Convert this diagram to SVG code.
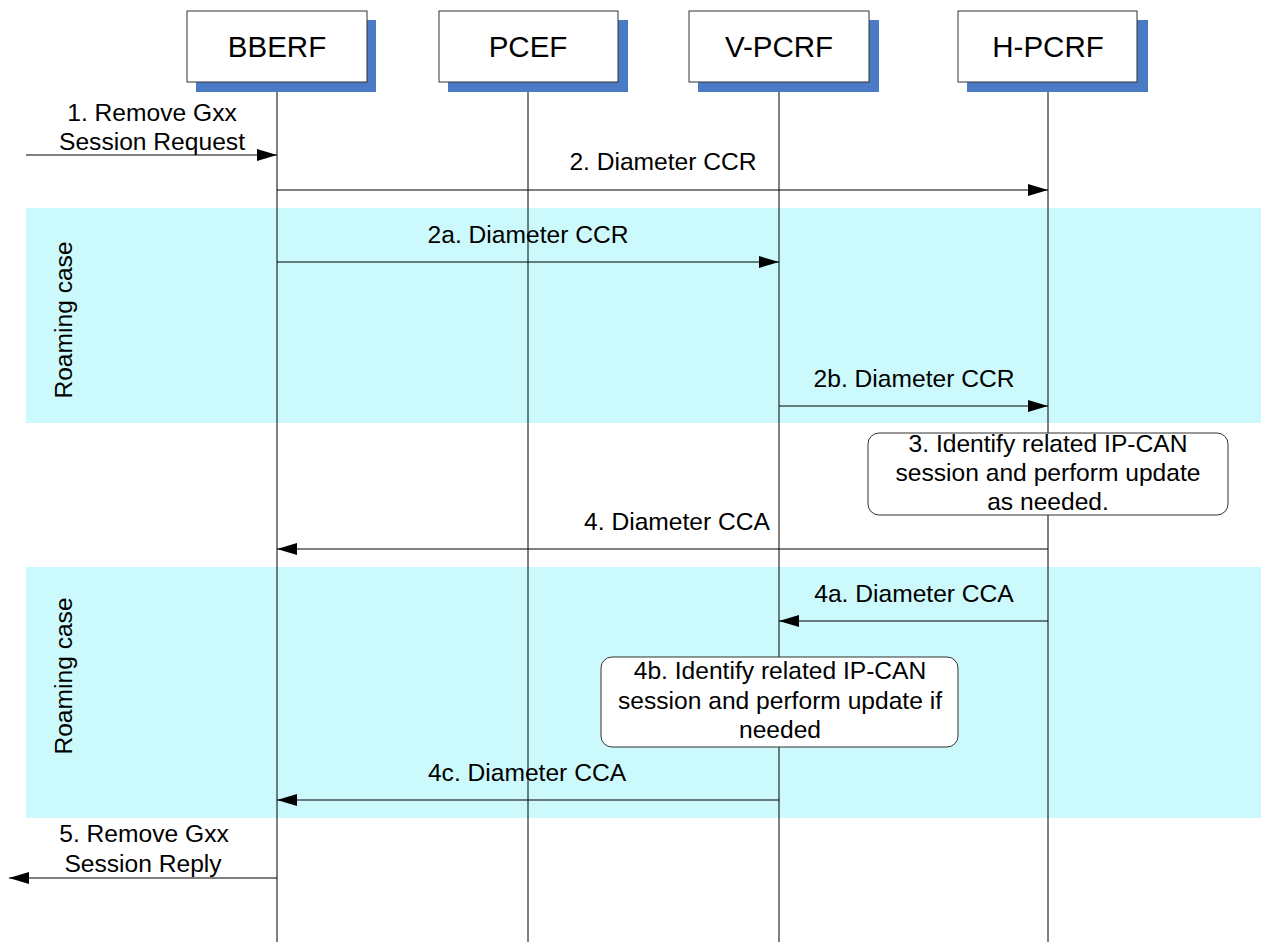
<svg xmlns="http://www.w3.org/2000/svg" width="1261" height="942" viewBox="0 0 1261 942">
<style>
text{font-family:"Liberation Sans",Arial,sans-serif;fill:#000}
.hd{font-size:29.5px;text-anchor:middle}
.lb{font-size:24.6px;text-anchor:middle}
.box{fill:#fff;stroke:#333;stroke-width:1}
.sh{fill:#4A7BC4}
.life{stroke:#000;stroke-width:1}
.msg{stroke:#000;stroke-width:1;fill:none;marker-end:url(#ah)}
.band{fill:#CCF9FB}
.note{fill:#fff;stroke:#333;stroke-width:1}
</style>
<defs>
<marker id="ah" markerUnits="userSpaceOnUse" markerWidth="20" markerHeight="12" refX="20" refY="6" orient="auto">
<path d="M0,0 L20,6 L0,12 z" fill="#000"/>
</marker>
</defs>
<rect width="1261" height="942" fill="#fff"/>
<g id="bands">
<rect class="band" x="26" y="208" width="1235" height="215"/>
<rect class="band" x="26" y="567" width="1235" height="251"/>
<text class="lb" transform="translate(72,320) rotate(-90)">Roaming case</text>
<text class="lb" transform="translate(72,676) rotate(-90)">Roaming case</text>
</g>
<g id="lifelines">
<line class="life" x1="277" y1="82" x2="277" y2="942"/>
<line class="life" x1="528" y1="82" x2="528" y2="942"/>
<line class="life" x1="779" y1="82" x2="779" y2="942"/>
<line class="life" x1="1048" y1="82" x2="1048" y2="942"/>
</g>
<g id="node-bberf">
<rect class="sh" x="196" y="20" width="180" height="72"/>
<rect class="box" x="187" y="11" width="180" height="71"/>
<text class="hd" x="277" y="57">BBERF</text>
</g>
<g id="node-pcef">
<rect class="sh" x="448" y="20" width="180" height="72"/>
<rect class="box" x="439" y="11" width="179" height="71"/>
<text class="hd" x="528" y="57">PCEF</text>
</g>
<g id="node-vpcrf">
<rect class="sh" x="698" y="20" width="181" height="72"/>
<rect class="box" x="689" y="11" width="180" height="71"/>
<text class="hd" x="779" y="57">V-PCRF</text>
</g>
<g id="node-hpcrf">
<rect class="sh" x="967" y="20" width="181" height="72"/>
<rect class="box" x="958" y="11" width="179" height="71"/>
<text class="hd" x="1048" y="57">H-PCRF</text>
</g>
<g id="connectors">
<line class="msg" x1="26" y1="155" x2="277" y2="155"/>
<text class="lb" x="152" y="121">1. Remove Gxx</text>
<text class="lb" x="152" y="150">Session Request</text>
<line class="msg" x1="277" y1="190" x2="1048" y2="190"/>
<text class="lb" x="663" y="170">2. Diameter CCR</text>
<line class="msg" x1="277" y1="262" x2="779" y2="262"/>
<text class="lb" x="528" y="243">2a. Diameter CCR</text>
<line class="msg" x1="779" y1="406" x2="1048" y2="406"/>
<text class="lb" x="914" y="387">2b. Diameter CCR</text>
<line class="msg" x1="1048" y1="549" x2="277" y2="549"/>
<text class="lb" x="677" y="530">4. Diameter CCA</text>
<line class="msg" x1="1048" y1="621" x2="779" y2="621"/>
<text class="lb" x="914" y="602">4a. Diameter CCA</text>
<line class="msg" x1="779" y1="800" x2="277" y2="800"/>
<text class="lb" x="527" y="781">4c. Diameter CCA</text>
<line class="msg" x1="277" y1="878" x2="9" y2="878"/>
<text class="lb" x="144" y="842">5. Remove Gxx</text>
<text class="lb" x="143" y="872">Session Reply</text>
</g>
<g id="node-step3">
<rect class="note" x="868" y="433" width="360" height="82" rx="11" ry="11"/>
<text class="lb" x="1048" y="452">3. Identify related IP-CAN</text>
<text class="lb" x="1048" y="481">session and perform update</text>
<text class="lb" x="1048" y="510">as needed.</text>
</g>
<g id="node-step4b">
<rect class="note" x="601" y="657" width="357" height="90" rx="11" ry="11"/>
<text class="lb" x="780" y="679">4b. Identify related IP-CAN</text>
<text class="lb" x="780" y="709">session and perform update if</text>
<text class="lb" x="780" y="738">needed</text>
</g>
</svg>
